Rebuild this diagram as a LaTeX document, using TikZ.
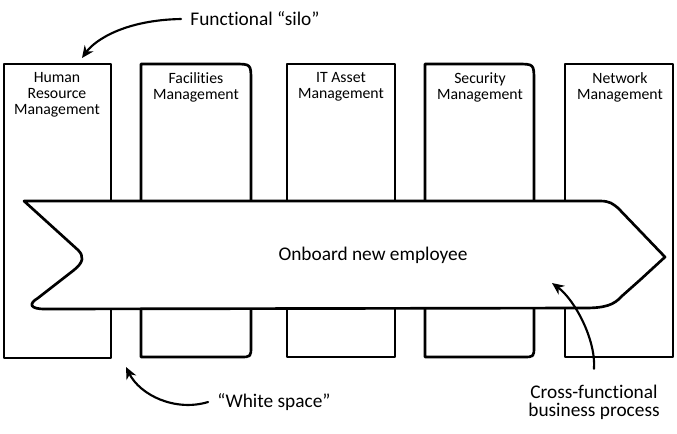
\documentclass[tikz,border=0pt]{standalone}
\usepackage{fontspec}
\setmainfont{Carlito}[Ligatures=CommonOff]
\usepackage{tikz}
\usetikzlibrary{arrows.meta}

\begin{document}
\begin{tikzpicture}[x=0.75pt, y=-0.75pt, line join=round, line cap=round,
    >={Stealth[length=9pt, width=8pt]},
    silo/.style={line width=2pt, fill=white},
    silotext/.style={anchor=north, align=center, inner sep=0pt, font=\fontsize{11.8}{12}\selectfont},
    note/.style={align=center, inner sep=0pt, outer sep=7pt, font=\fontsize{14.5}{13.5}\selectfont},
    notearrow/.style={->, line width=1.6pt}]
    \useasboundingbox (0,0) rectangle (677,433);

    % Functional silos
    \draw[silo] (4,64) rectangle (111,358);
    \draw[silo] (141,357) -- (141,64) -- (234,64) .. controls (251,64) .. (251,81)
        -- (251,346) .. controls (251,357) .. (240,357) -- cycle;
    \draw[silo] (287,64) rectangle (395,357);
    \draw[silo] (425,357) -- (425,64) -- (517,64) .. controls (534,64) .. (534,81)
        -- (534,346) .. controls (534,357) .. (523,357) -- cycle;
    \draw[silo] (565,64) rectangle (673,357);

    \node[silotext] (hrlbl)  at (57,72)  {Human\\Resource\\Management};
    \node[silotext] (faclbl) at (196,72) {Facilities\\Management};
    \node[silotext] (itlbl)  at (341,72) {IT Asset\\Management};
    \node[silotext] (seclbl) at (480,72) {Security\\Management};
    \node[silotext] (netlbl) at (620,72) {Network\\Management};

    % Cross-functional process
    \draw[silo] (24,201) -- (600,201) .. controls (610,201) and (613,204) .. (618,208)
        -- (665,257) -- (640,280) -- (622,296) .. controls (614,305) and (605,308) .. (585,308)
        -- (45,309) .. controls (30,309) and (28,304) .. (38,298) -- (74,270)
        .. controls (84,262) and (84,256) .. (78,250) -- cycle;
    \node[font=\fontsize{14.5}{15}\selectfont] (process) at (373,255) {Onboard new employee};

    % Notes and arrows
    \node[note] (silonote)  at (255,19)  {Functional “silo”};
    \node[note] (whitenote) at (274,402) {“White space”};
    \node[note, outer sep=12pt] (crossnote) at (594,402) {Cross-functional\\business process};
    \coordinate (silotip)  at (82,58);
    \coordinate (whitetip) at (126,367);
    \coordinate (crosstip) at (552,283);

    \draw[notearrow] (silonote.west) .. controls (125,20) and (95,40) .. (silotip);
    \draw[notearrow] (whitenote.west) .. controls (175,412) and (140,395) .. (whitetip);
    \draw[notearrow] (crossnote.north) .. controls (596,340) and (575,300) .. (crosstip);
\end{tikzpicture}
\end{document}
